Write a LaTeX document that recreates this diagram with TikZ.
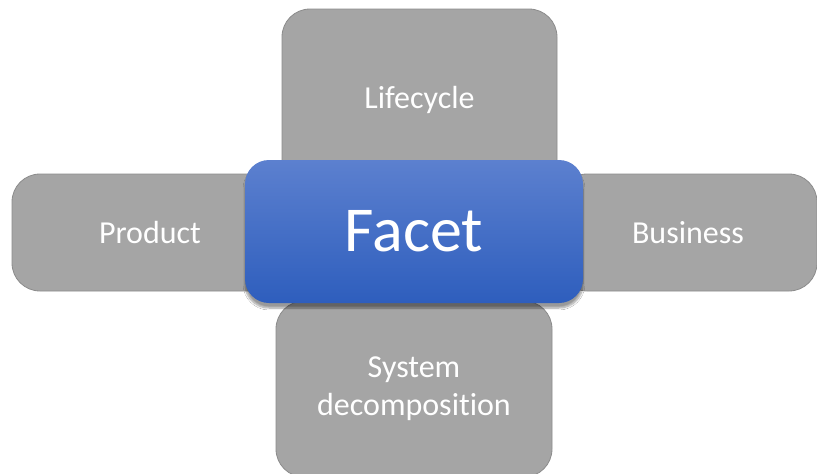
\documentclass[tikz,border=0pt]{standalone}
\usepackage{fontspec}
\setmainfont{Carlito}[Ligatures=NoCommon]
\usetikzlibrary{shadows,shadows.blur}
\definecolor{boxgray}{HTML}{A5A5A5}
\definecolor{boxedge}{HTML}{8C8C8C}
\definecolor{facettop}{RGB}{92,128,207}
\definecolor{facetbot}{RGB}{46,94,189}
\tikzset{
  graybox/.style={draw=boxedge, line width=0.8pt, fill=boxgray, rounded corners=28pt,
    text=white, font=\fontsize{32}{38}\selectfont, align=center, inner sep=0pt},
  facetbox/.style={rounded corners=24pt, top color=facettop, bottom color=facetbot,
    draw=none, text=white, font=\fontsize{64}{70}\selectfont, inner sep=0pt,
    blur shadow={shadow xshift=0pt, shadow yshift=-5pt, shadow blur steps=8, shadow blur extra rounding=3pt, shadow opacity=40}}
}
\begin{document}
\begin{tikzpicture}[x=1pt,y=-1pt]
\useasboundingbox[fill=white] (0,0) rectangle (817,474);
\node[graybox, minimum width=275pt, minimum height=182pt] (life) at (419.5,100) {Lifecycle};
\node[graybox, minimum width=276pt, minimum height=117pt] (prod) at (150,232.5) {Product};
\node[graybox, minimum width=258pt, minimum height=117pt] (bus) at (688,232.5) {Business};
\node[graybox, minimum width=276pt, minimum height=176pt] (sys) at (414,389) {System\\decomposition};
\node[facetbox, minimum width=338pt, minimum height=143pt] (facet) at (414,231.5) {Facet};
\end{tikzpicture}
\end{document}
